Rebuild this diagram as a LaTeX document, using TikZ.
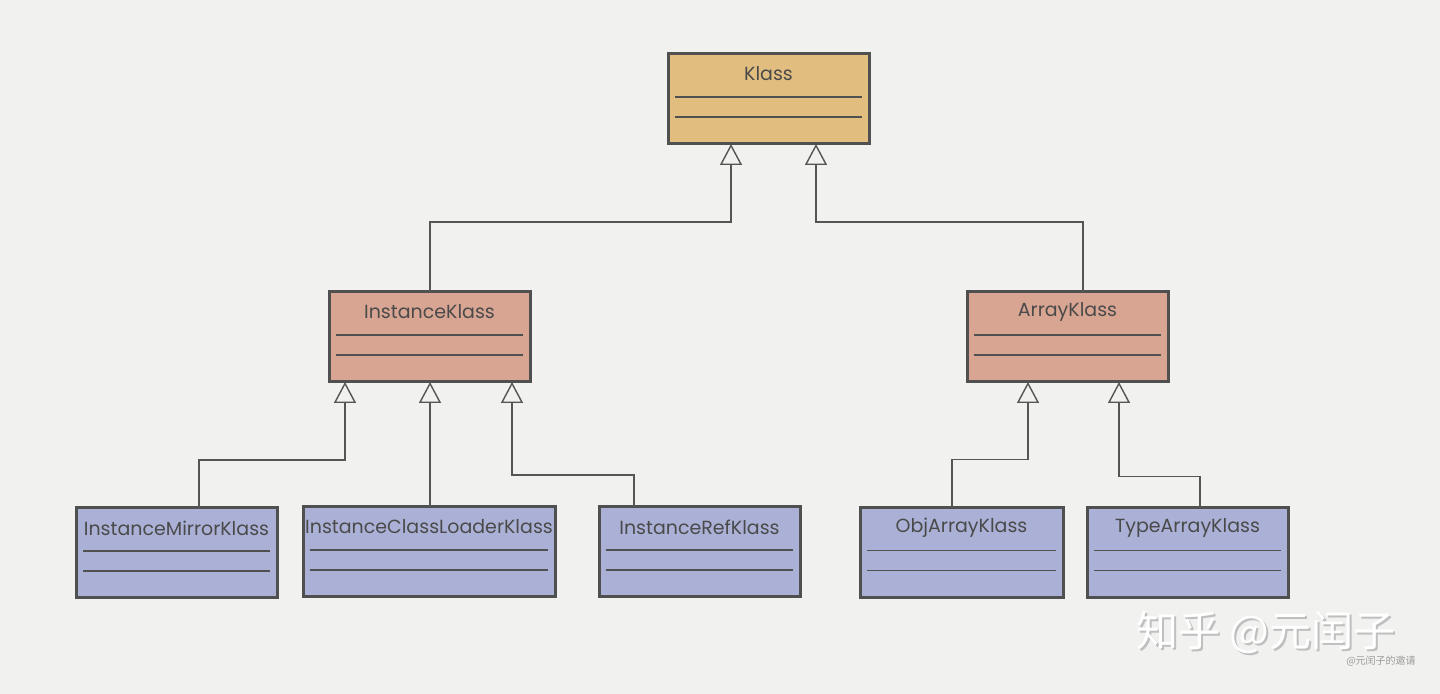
\documentclass[tikz,border=0pt]{standalone}
\usepackage{fontspec}
\setmainfont{Poppins}
\newfontfamily\cjk{Noto Sans CJK SC}
\usetikzlibrary{arrows.meta,calc}
\definecolor{bg}{HTML}{F1F1EF}
\definecolor{tanc}{HTML}{E1BE80}
\definecolor{salc}{HTML}{D9A593}
\definecolor{bluc}{HTML}{ABB1D6}
\definecolor{edgec}{HTML}{505050}
\definecolor{linec}{HTML}{555555}
\definecolor{txtc}{HTML}{4A4A4A}
\tikzset{
  cbox/.style={draw=edgec, line width=1.5pt, minimum height=45pt, inner sep=0pt, outer sep=0pt},
  ctitle/.style={text=txtc, font=\fontsize{9.5}{11}\selectfont, inner sep=0pt},
  cdiv/.style={draw=edgec, line width=0.75pt},
  inh/.style={draw=linec, line width=0.7pt, -{Triangle[open, width=11pt, length=10.5pt, line width=0.7pt]}},
}
\newcommand\classbox[6]{%
  \node[cbox, fill=#5, minimum width=#4*0.5pt] (#1) at (#2,#3) {};
  \node[ctitle] (#1-t) at ($(#1.north)+(0,20)$) {#6};
  \draw[cdiv] ($(#1.north west)+(7,43)$) -- ($(#1.north east)+(-7,43)$);
  \draw[cdiv] ($(#1.north west)+(7,63)$) -- ($(#1.north east)+(-7,63)$);
}
\begin{document}
\begin{tikzpicture}[x=0.5pt,y=-0.5pt]
\fill[bg] (0,0) rectangle (1440,694);
\useasboundingbox (0,0) rectangle (1440,694);
\classbox{k}{768.5}{99}{201}{tanc}{Klass}
\classbox{ik}{429.5}{337}{201}{salc}{InstanceKlass}
\classbox{ak}{1067.5}{337}{201}{salc}{ArrayKlass}
\classbox{imk}{176.5}{553}{201}{bluc}{InstanceMirrorKlass}
\classbox{iclk}{429}{552}{252}{bluc}{InstanceClassLoaderKlass}
\classbox{irk}{699.5}{552}{201}{bluc}{InstanceRefKlass}
\classbox{oak}{961.5}{552.5}{203}{bluc}{ObjArrayKlass}
\classbox{tak}{1187.5}{552.5}{201}{bluc}{TypeArrayKlass}
% inheritance
\draw[inh] ($(ik.north west)+(101,0)$) -- ++(0,-70) -| ($(k.south west)+(63,0)$);
\draw[inh] ($(ak.north west)+(116,0)$) -- ++(0,-70) -| ($(k.south west)+(148,0)$);
\draw[inh] ($(imk.north west)+(123,0)$) -- ++(0,-48) -| ($(ik.south west)+(16,0)$);
\draw[inh] ($(iclk.north west)+(127,0)$) -- ($(ik.south west)+(101,0)$);
\draw[inh] ($(irk.north west)+(35,0)$) -- ++(0,-32) -| ($(ik.south west)+(183,0)$);
\draw[inh] ($(oak.north west)+(92,0)$) -- ++(0,-48) -| ($(ak.south west)+(61,0)$);
\draw[inh] ($(tak.north west)+(113,0)$) -- ++(0,-31) -| ($(ak.south west)+(152,0)$);
% watermark
\node[text=black!25, font=\cjk\fontsize{21}{23}\selectfont, inner sep=0pt] (wms) at (1268,634) {知乎 @元闰子};
\node[text=white, font=\cjk\fontsize{21}{23}\selectfont, inner sep=0pt] (wm) at (1266,632) {知乎 @元闰子};
\node[text=black!40, font=\cjk\fontsize{5}{6}\selectfont, inner sep=0pt] (wm2) at (1381,661) {@元闰子的邀请};
\end{tikzpicture}
\end{document}
